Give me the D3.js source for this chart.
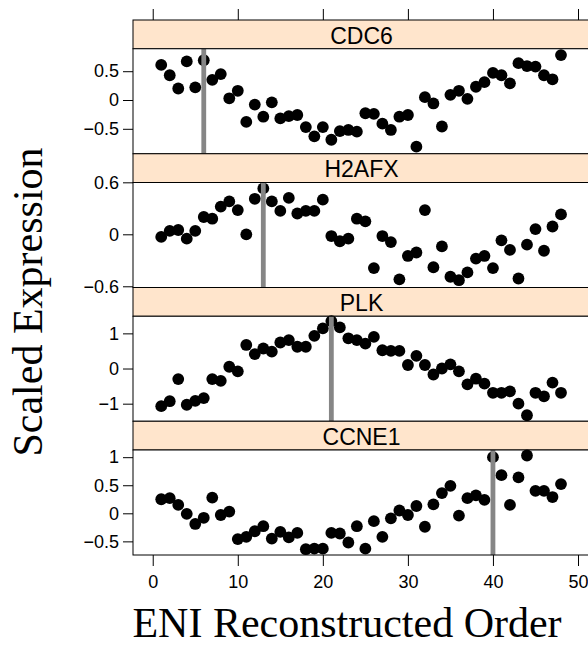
<!DOCTYPE html>
<html>
<head>
<meta charset="utf-8">
<script src="https://cdn.jsdelivr.net/npm/d3@7/dist/d3.min.js"></script>
<style>
  html, body { margin: 0; padding: 0; background: #fff; }
  svg { display: block; }
</style>
</head>
<body>
<script>
// Reconstructed order positions (samples 1..48)
const order = d3.range(1, 49);

// Panels, top to bottom
const genes = ["CDC6", "H2AFX", "PLK", "CCNE1"];

// Scaled expression values per gene, in reconstructed order
const cdc6 = [0.61, 0.43, 0.20, 0.67, 0.22, 0.69, 0.35, 0.45, 0.03, 0.16,
  -0.38, -0.08, -0.29, -0.04, -0.32, -0.28, -0.26, -0.47, -0.63, -0.47,
  -0.69, -0.54, -0.52, -0.55, -0.23, -0.24, -0.41, -0.52, -0.29, -0.26,
  -0.81, 0.05, -0.06, -0.46, 0.09, 0.16, 0.02, 0.23, 0.31, 0.47,
  0.43, 0.29, 0.64, 0.59, 0.58, 0.43, 0.36, 0.78];
const h2afx = [-0.03, 0.04, 0.05, -0.05, 0.04, 0.20, 0.18, 0.32, 0.38, 0.28,
  0.00, 0.41, 0.53, 0.38, 0.27, 0.42, 0.24, 0.27, 0.27, 0.40,
  -0.02, -0.08, -0.05, 0.18, 0.15, -0.39, -0.02, -0.09, -0.52, -0.25,
  -0.21, 0.28, -0.38, -0.14, -0.49, -0.53, -0.44, -0.28, -0.25, -0.39,
  -0.07, -0.18, -0.51, -0.12, 0.06, -0.19, 0.09, 0.23];
const plk = [-1.07, -0.93, -0.30, -1.03, -0.92, -0.84, -0.30, -0.35, 0.05, -0.08,
  0.67, 0.41, 0.57, 0.48, 0.74, 0.81, 0.62, 0.62, 0.93, 1.14,
  1.35, 1.17, 0.86, 0.81, 0.71, 0.90, 0.52, 0.50, 0.50, 0.10,
  0.36, 0.10, -0.17, 0.00, 0.12, -0.08, -0.45, -0.29, -0.43, -0.69,
  -0.69, -0.65, -1.00, -1.33, -0.69, -0.79, -0.40, -0.69];
const ccne1 = [0.25, 0.27, 0.15, -0.01, -0.19, -0.08, 0.28, -0.03, 0.03, -0.46,
  -0.42, -0.32, -0.23, -0.45, -0.33, -0.43, -0.35, -0.64, -0.63, -0.63,
  -0.35, -0.36, -0.52, -0.23, -0.63, -0.14, -0.42, -0.09, 0.05, -0.03,
  0.13, -0.24, 0.16, 0.36, 0.49, -0.04, 0.27, 0.32, 0.24, 1.00,
  0.68, 0.15, 0.64, 1.03, 0.40, 0.40, 0.29, 0.52];
const seriesValues = [cdc6, h2afx, plk, ccne1];

// Peak position marked in each panel
const peaks = [6, 13, 21, 40];

// Y limits and tick values per panel
const yLimits = [[-0.933, 0.89], [-0.614, 0.598], [-1.5, 1.487], [-0.743, 1.128]];
const yTicks = [[-0.5, 0, 0.5], [-0.6, 0, 0.6], [-1, 0, 1], [-0.5, 0, 0.5, 1]];
const xTicks = [0, 10, 20, 30, 40, 50];
const xLimits = [-2.32, 51.41];

const W = 588, H = 645;
const plotLeft = 133, plotRight = 590;
const plotTop = 20, stripH = 28.75, panelH = 105;
const blockH = stripH + panelH;
const stripFill = "#ffe5cc";
const tickFont = "'Liberation Sans', Arial, Helvetica, sans-serif";
const titleFont = "'Liberation Serif', 'Times New Roman', Times, serif";
const tickSizePx = 18;
const fmt = v => (v < 0 ? "\u2212" : "") + String(Math.abs(v));

const svg = d3.select("body").append("svg")
  .attr("width", W).attr("height", H);

const defs = svg.append("defs");
defs.append("filter").attr("id", "soft")
  .attr("x", "-300%").attr("width", "700%")
  .append("feGaussianBlur").attr("stdDeviation", 2.6);

const x = d3.scaleLinear().domain(xLimits).range([plotLeft, plotRight]);

genes.forEach((gene, k) => {
  const sTop = plotTop + k * blockH;
  const pTop = sTop + stripH;
  const pBot = pTop + panelH;
  const y = d3.scaleLinear().domain(yLimits[k]).range([pBot, pTop]);
  const g = svg.append("g");

  // strip
  g.append("rect")
    .attr("x", plotLeft).attr("y", sTop)
    .attr("width", plotRight - plotLeft).attr("height", stripH)
    .attr("fill", stripFill).attr("stroke", "#000").attr("stroke-width", 1);
  g.append("text")
    .attr("x", (plotLeft + plotRight) / 2)
    .attr("y", sTop + 23.5)
    .attr("text-anchor", "middle")
    .attr("font-family", tickFont).attr("font-size", 23)
    .text(gene);

  // panel background
  g.append("rect")
    .attr("x", plotLeft).attr("y", pTop)
    .attr("width", plotRight - plotLeft).attr("height", panelH)
    .attr("fill", "#fff");

  const clipId = "clip" + k;
  defs.append("clipPath").attr("id", clipId)
    .append("rect").attr("x", plotLeft).attr("y", pTop - 7)
    .attr("width", plotRight - plotLeft).attr("height", panelH + 14);

  const plot = g.append("g").attr("clip-path", `url(#${clipId})`);

  // points
  plot.selectAll("circle")
    .data(order.map((o, i) => [o, seriesValues[k][i]]))
    .join("circle")
    .attr("cx", d => x(d[0]))
    .attr("cy", d => y(d[1]))
    .attr("r", 5.9)
    .attr("fill", "#000");

  // peak marker: soft halo and grey core
  plot.append("line")
    .attr("x1", x(peaks[k])).attr("x2", x(peaks[k]))
    .attr("y1", pTop).attr("y2", pBot)
    .attr("stroke", "#c4c4c4").attr("stroke-width", 11)
    .attr("opacity", 0.5).attr("filter", "url(#soft)");
  plot.append("line")
    .attr("x1", x(peaks[k])).attr("x2", x(peaks[k]))
    .attr("y1", pTop).attr("y2", pBot)
    .attr("stroke", "#868686").attr("stroke-width", 4.8);

  // frame
  g.append("rect")
    .attr("x", plotLeft).attr("y", pTop)
    .attr("width", plotRight - plotLeft).attr("height", panelH)
    .attr("fill", "none").attr("stroke", "#000").attr("stroke-width", 1);

  // left axis
  const yAxis = d3.axisLeft(y).tickValues(yTicks[k]).tickFormat(fmt)
    .tickSize(10).tickPadding(4);
  const ya = g.append("g").attr("transform", `translate(${plotLeft},0)`).call(yAxis);
  ya.select(".domain").remove();
  ya.selectAll("line").attr("stroke", "#000");
  ya.selectAll("text").attr("font-family", tickFont).attr("font-size", tickSizePx).attr("fill", "#000");
});

// top ticks (no labels)
const xTop = d3.axisTop(x).tickValues(xTicks).tickFormat("").tickSize(11);
const xt = svg.append("g").attr("transform", `translate(0,${plotTop})`).call(xTop);
xt.select(".domain").remove();

// bottom axis
const panelsBottom = plotTop + 4 * blockH;
const xBot = d3.axisBottom(x).tickValues(xTicks).tickSize(11).tickPadding(9);
const xb = svg.append("g").attr("transform", `translate(0,${panelsBottom})`).call(xBot);
xb.select(".domain").remove();
xb.selectAll("text").attr("font-family", tickFont).attr("font-size", tickSizePx).attr("fill", "#000");

// axis titles
svg.append("text")
  .attr("x", 347).attr("y", 637)
  .attr("text-anchor", "middle")
  .attr("font-family", titleFont).attr("font-size", 42)
  .text("ENI Reconstructed Order");

svg.append("text")
  .attr("transform", "translate(42,302) rotate(-90)")
  .attr("text-anchor", "middle")
  .attr("font-family", titleFont).attr("font-size", 42)
  .text("Scaled Expression");
</script>
</body>
</html>
